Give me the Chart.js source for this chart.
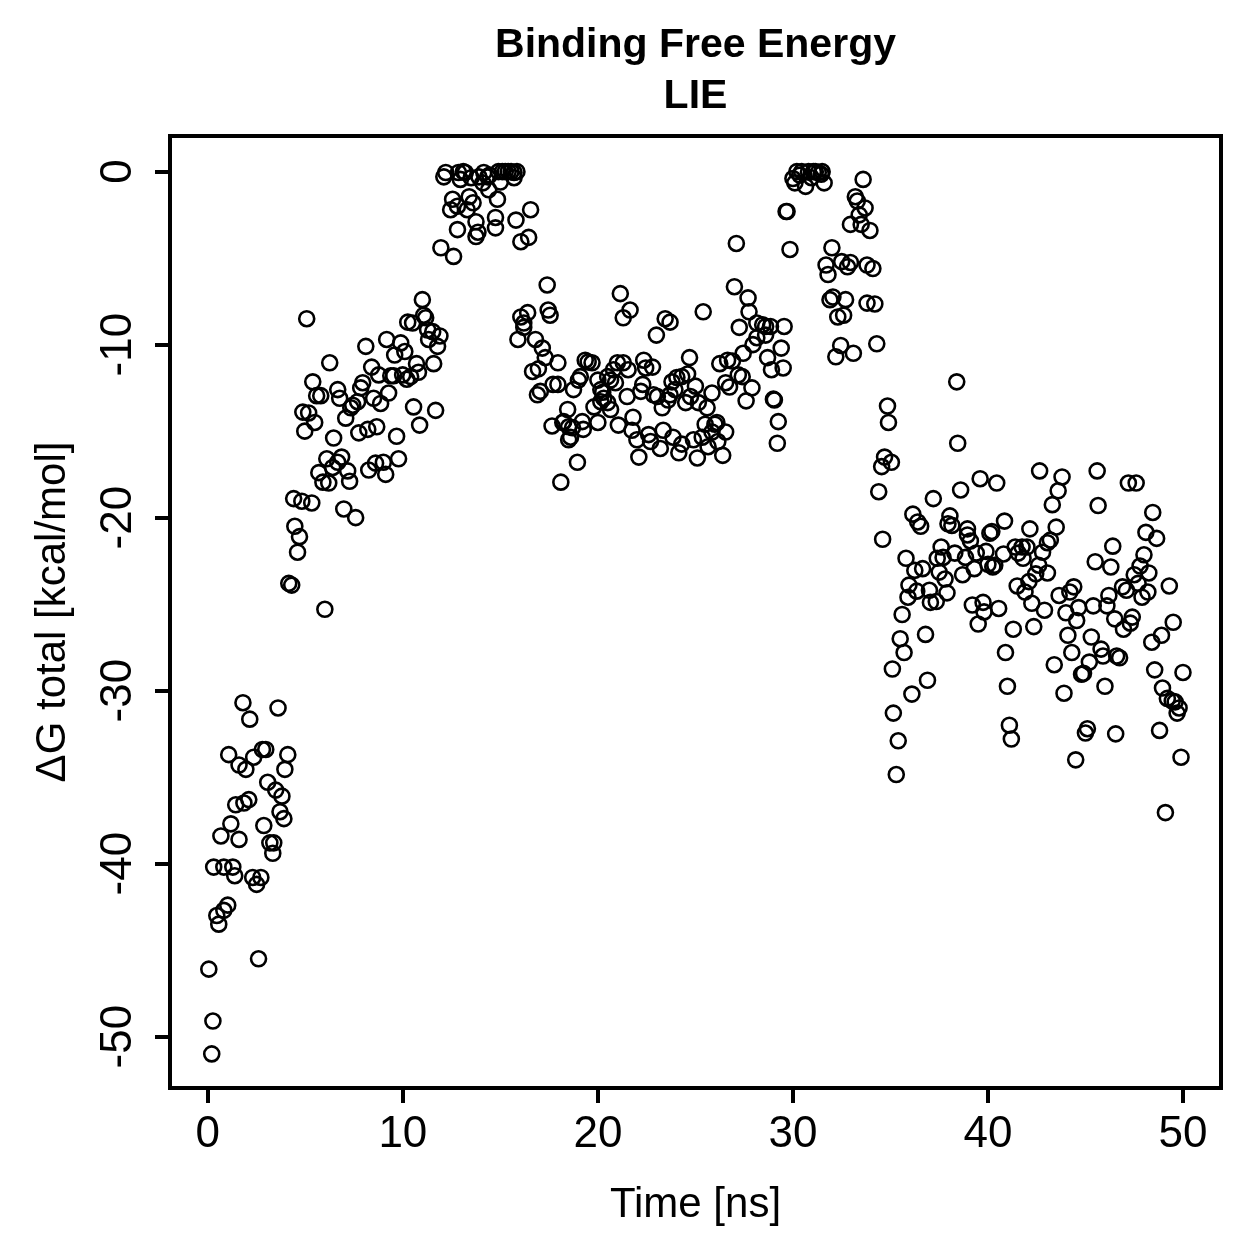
<!DOCTYPE html>
<html><head><meta charset="utf-8">
<script src="https://cdn.jsdelivr.net/npm/chart.js@4.4.1/dist/chart.umd.min.js"></script>
<style>html,body{margin:0;padding:0;background:#fff;} #wrap{width:1259px;height:1259px;}</style>
</head><body><div id="wrap"><canvas id="c" width="1259" height="1259"></canvas></div>
<script>
const chartTitle = ['Binding Free Energy', 'LIE'];
const xLabel = 'Time [ns]';
const yLabel = '\u0394G total [kcal/mol]';
const xTicks = [0, 10, 20, 30, 40, 50];
const yTicks = [0, -10, -20, -30, -40, -50];

// [time (ns), ΔG total (kcal/mol)]
const phaseA = [[1.8,-30.7],[3.6,-31.0],[2.15,-31.65],[1.07,-33.7],[2.35,-33.85],[2.8,-33.4],[2.97,-33.4],[4.1,-33.7],[1.6,-34.3],[1.95,-34.55],[3.95,-34.55],[3.07,-35.3],[3.48,-35.75],[3.8,-36.1],[1.43,-36.6],[1.85,-36.5],[2.1,-36.3],[3.7,-37.0],[3.9,-37.4],[1.18,-37.7],[2.87,-37.8],[0.67,-38.4],[1.6,-38.6],[3.18,-38.8],[3.38,-38.8],[3.33,-39.4],[0.3,-40.2],[0.82,-40.2],[1.28,-40.2],[1.38,-40.7],[2.3,-40.8],[2.72,-40.8],[2.5,-41.2],[1.02,-42.4],[0.82,-42.7],[0.46,-43.0],[0.56,-43.5],[2.6,-45.5],[0.05,-46.1],[0.26,-49.1],[0.2,-51.0]];
const phaseB = [[4.15,-23.8],[4.3,-23.9],[4.4,-18.9],[4.46,-20.5],[4.82,-19.05],[4.6,-22.0],[4.7,-21.1],[4.87,-13.9],[4.97,-15.0],[5.07,-8.5],[5.17,-13.95],[5.33,-19.15],[5.38,-12.15],[5.48,-14.5],[5.58,-12.95],[5.79,-12.95],[5.69,-17.4],[5.9,-17.95],[6.0,-25.3],[6.1,-16.6],[6.2,-18.0],[6.25,-11.05],[6.4,-17.1],[6.45,-15.4],[6.66,-12.6],[6.66,-16.8],[6.76,-13.1],[6.86,-16.5],[6.97,-19.5],[7.07,-14.25],[7.17,-17.3],[7.27,-17.9],[7.33,-13.65],[7.43,-13.5],[7.58,-20.0],[7.68,-13.3],[7.74,-15.1],[7.84,-12.5],[7.94,-12.2],[8.1,-10.1],[8.2,-14.9],[8.25,-17.25],[8.4,-11.3],[8.5,-13.1],[8.6,-16.85],[8.66,-14.75],[8.76,-11.75],[8.86,-13.4],[9.0,-16.8],[9.12,-17.5],[9.17,-9.7],[9.27,-12.8],[9.38,-11.8],[9.53,-11.8],[9.58,-10.6],[9.68,-15.3],[9.78,-16.6],[9.89,-9.9],[9.99,-11.75],[10.1,-10.4],[10.2,-12.0],[10.25,-8.7],[10.4,-11.85],[10.5,-8.75],[10.55,-13.6],[10.7,-11.1],[10.8,-11.6],[10.86,-14.65],[11.0,-7.4],[11.07,-8.3],[11.17,-8.45],[11.27,-9.15],[11.32,-9.7],[11.53,-9.25],[11.58,-11.1],[11.68,-13.8],[11.78,-10.1],[11.9,-9.5]];
const phaseC = [[11.95,-4.4],[12.1,-0.3],[12.2,-0.05],[12.6,-4.9],[12.55,-1.6],[12.45,-2.2],[12.8,-2.0],[12.8,-3.35],[12.85,-0.05],[12.95,-0.45],[13.1,0.0],[13.2,-0.05],[13.4,-1.45],[13.3,-2.2],[13.5,-0.35],[13.6,-1.8],[13.75,-2.9],[13.85,-3.5],[13.75,-3.75],[13.9,-0.3],[14.1,-0.65],[14.15,-0.05],[14.35,-0.3],[14.4,-1.05],[14.45,-0.2],[14.75,-2.65],[14.75,-3.25],[14.85,-1.6],[15.0,-0.6],[14.9,0.0],[15.1,0.0],[15.25,0.0],[15.4,0.0],[15.55,0.0],[15.7,-0.05],[15.85,0.0],[15.7,-0.35],[15.8,-2.8],[16.05,-4.05],[16.45,-3.8],[16.55,-2.2]];
const phaseD = [[17.4,-6.55],[21.15,-7.05],[21.65,-8.0],[21.3,-8.45],[16.05,-8.4],[16.4,-8.15],[16.2,-8.75],[16.2,-9.0],[17.45,-8.0],[17.55,-8.3],[15.9,-9.7],[16.8,-9.7],[17.15,-10.2],[17.3,-10.75],[17.95,-11.05],[16.65,-11.55],[16.95,-11.4],[16.9,-12.9],[17.05,-12.7],[17.7,-12.3],[17.95,-12.3],[18.75,-12.6],[18.45,-13.75],[18.25,-14.45],[17.65,-14.7],[18.2,-14.5],[18.5,-14.75],[18.6,-15.35],[18.5,-15.5],[18.7,-14.8],[19.2,-14.45],[19.25,-14.9],[18.95,-16.8],[18.1,-17.95],[19.35,-10.9],[19.5,-11.0],[19.7,-11.05],[19.1,-11.85],[19.0,-12.05],[20.0,-12.05],[20.15,-12.6],[20.65,-12.05],[20.8,-11.45],[21.0,-11.05],[21.3,-11.05],[21.55,-11.45],[22.35,-10.9],[22.45,-11.35],[20.5,-11.85],[20.9,-12.2],[20.25,-12.75],[20.3,-13.1],[20.15,-13.3],[20.5,-13.35],[19.8,-13.6],[20.65,-13.75],[21.5,-13.0],[20.0,-14.5],[21.05,-14.65],[21.8,-14.2],[21.75,-14.95],[22.0,-15.5],[22.1,-16.5],[22.3,-12.3],[22.2,-12.7],[22.6,-15.2],[22.7,-15.6]];
const phaseE = [[22.8,-11.3],[22.85,-12.9],[23.0,-9.45],[23.05,-13.0],[23.2,-16.0],[23.35,-14.95],[23.45,-8.5],[23.7,-8.7],[23.6,-13.2],[23.3,-13.65],[23.7,-12.9],[23.8,-12.15],[23.85,-15.35],[23.95,-12.6],[24.05,-11.9],[24.15,-16.25],[24.3,-11.85],[24.3,-15.75],[24.5,-13.35],[24.6,-11.7],[24.7,-10.75],[24.75,-13.0],[24.9,-15.5],[25.0,-12.4],[25.1,-16.55],[25.15,-13.35],[25.35,-15.35],[25.4,-8.1],[25.5,-14.6],[25.6,-13.65],[25.65,-15.9],[25.85,-12.8],[25.85,-15.05],[26.0,-14.6],[26.1,-14.5],[26.15,-15.6],[26.25,-11.1],[26.4,-16.4],[26.55,-12.2],[26.55,-15.05],[26.65,-10.9],[26.75,-12.45],[26.9,-10.95],[27.0,-6.65],[27.1,-4.15],[27.2,-11.75],[27.25,-9.0],[27.4,-11.85],[27.45,-10.5],[27.6,-13.25],[27.7,-7.3],[27.75,-8.1],[27.9,-12.5],[27.95,-10.0],[28.15,-8.75],[28.15,-9.6],[28.45,-8.85],[28.6,-8.95],[28.6,-9.45],[28.7,-10.75],[28.85,-8.95],[28.9,-11.45],[29.0,-13.15],[29.05,-13.2],[29.25,-14.45],[29.2,-15.7],[29.4,-10.2],[29.5,-11.35],[29.55,-8.95]];
const phaseF = [[29.65,-2.3],[29.7,-2.3],[29.85,-4.5],[30.0,-0.4],[30.1,-0.65],[30.2,0.0],[30.35,-0.2],[30.45,0.0],[30.65,-0.85],[30.8,0.0],[30.95,-0.35],[31.05,0.0],[31.15,0.0],[31.3,-0.05],[31.45,-0.15],[31.5,0.0],[31.6,-0.65],[33.6,-0.45],[33.2,-1.45],[33.3,-1.7],[33.7,-2.1],[33.4,-2.5],[32.95,-3.05],[33.5,-3.05],[33.95,-3.4],[32.0,-4.4],[31.7,-5.4],[31.8,-5.95],[32.5,-5.2],[32.8,-5.5],[32.95,-5.25],[33.8,-5.4],[34.1,-5.6],[31.9,-7.4],[32.05,-7.25],[32.7,-7.4],[32.3,-8.4],[32.6,-8.3],[33.8,-7.6],[34.2,-7.65],[32.2,-10.7],[32.45,-10.05],[33.1,-10.5],[34.3,-9.95]];
const phaseG = [[34.85,-13.55],[34.9,-14.5],[34.7,-16.5],[35.05,-16.8],[34.55,-17.05],[34.4,-18.5],[34.6,-21.25],[35.3,-34.85],[35.4,-32.9],[35.15,-31.3],[35.1,-28.75],[35.5,-27.0],[35.7,-27.8],[35.6,-25.6],[35.8,-22.35],[35.95,-23.9],[35.9,-24.6],[36.1,-30.2],[36.15,-19.8],[36.25,-23.05],[36.35,-24.25],[36.4,-20.25],[36.55,-20.5],[36.65,-22.95],[36.8,-26.75],[36.9,-29.4],[37.0,-24.2],[37.05,-24.9],[37.2,-18.9],[37.35,-24.85],[37.4,-22.35],[37.5,-23.15],[37.6,-21.7],[37.7,-22.3],[37.8,-23.55],[37.9,-24.35],[37.95,-20.35],[38.05,-19.9],[38.15,-20.45],[38.3,-22.05],[38.4,-12.15],[38.45,-15.7],[38.6,-18.4],[38.7,-23.3],[38.85,-22.3],[38.95,-20.65],[38.95,-21.0],[39.1,-21.35],[39.2,-25.05],[39.3,-22.95],[39.4,-22.05],[39.5,-26.15],[39.6,-17.75],[39.75,-24.9],[39.8,-25.45],[39.9,-21.95],[40.0,-22.7],[40.1,-20.9],[40.2,-20.8],[40.25,-22.85],[40.35,-22.75],[40.45,-18.0],[40.55,-25.25]];
const phaseH = [[40.8,-22.1],[40.85,-20.2],[40.9,-27.8],[41.0,-29.75],[41.1,-32.0],[41.2,-32.8],[41.3,-26.45],[41.4,-21.7],[41.5,-23.95],[41.55,-22.05],[41.75,-21.7],[41.8,-22.35],[41.9,-24.3],[42.0,-21.7],[42.1,-23.7],[42.15,-20.65],[42.25,-24.95],[42.35,-26.3],[42.45,-23.25],[42.6,-22.75],[42.65,-17.3],[42.8,-22.0],[42.9,-25.35],[43.05,-21.45],[43.05,-23.2],[43.2,-21.3],[43.3,-19.25],[43.4,-28.5],[43.5,-20.55],[43.6,-18.45],[43.65,-24.5],[43.8,-17.65],[43.9,-30.15],[44.0,-25.5],[44.1,-26.8],[44.2,-24.3],[44.3,-27.8],[44.4,-24.0],[44.5,-34.0],[44.55,-25.95],[44.65,-25.2],[44.8,-29.05],[44.9,-29.0],[45.0,-32.45],[45.1,-32.2],[45.2,-28.35],[45.3,-26.9],[45.4,-25.1],[45.5,-22.55],[45.6,-17.3],[45.65,-19.3],[45.8,-27.6],[45.9,-28.0],[46.0,-29.75],[46.1,-25.1],[46.2,-24.5],[46.3,-22.85],[46.4,-21.65],[46.5,-25.85],[46.55,-32.5],[46.6,-28.0],[46.75,-28.1],[46.9,-24.0],[46.95,-26.45],[47.1,-24.2],[47.2,-18.0],[47.3,-26.1],[47.4,-25.75],[47.5,-23.3],[47.6,-18.0],[47.7,-23.8],[47.8,-22.8],[47.9,-24.6],[48.0,-22.15],[48.1,-20.85],[48.2,-24.3],[48.25,-23.2],[48.4,-27.2],[48.45,-19.7],[48.55,-28.8],[48.65,-21.2],[48.8,-32.3],[48.9,-26.8],[48.95,-29.85],[49.1,-37.05],[49.2,-30.45],[49.3,-23.95],[49.45,-30.6],[49.5,-26.05],[49.6,-30.65],[49.7,-31.3],[49.8,-31.0],[49.9,-33.85],[50.0,-28.95]];

const allPoints = [].concat(phaseA, phaseB, phaseC, phaseD, phaseE, phaseF, phaseG, phaseH)
  .map(p => ({x: p[0], y: p[1]}));

const FAMILY = "'Liberation Sans', Arial, Helvetica, sans-serif";

const frameAndYLabels = {
  id: 'frameAndYLabels',
  afterDraw(chart) {
    const ctx = chart.ctx;
    const a = chart.chartArea;
    ctx.save();
    ctx.strokeStyle = '#000';
    ctx.lineWidth = 4;
    ctx.strokeRect(a.left, a.top, a.right - a.left, a.bottom - a.top);
    const ys = chart.scales.y;
    ctx.fillStyle = '#000';
    ctx.font = '44px ' + FAMILY;
    ctx.textAlign = 'center';
    ctx.textBaseline = 'alphabetic';
    yTicks.forEach(v => {
      const py = ys.getPixelForValue(v);
      ctx.save();
      ctx.translate(131, py);
      ctx.rotate(-Math.PI / 2);
      ctx.fillText(String(v), 0, 0);
      ctx.restore();
    });
    ctx.restore();
  }
};

new Chart(document.getElementById('c'), {
  type: 'scatter',
  data: {
    datasets: [{
      data: allPoints,
      pointStyle: 'circle',
      radius: 7.5,
      pointRadius: 7.5,
      pointHoverRadius: 7.5,
      pointBorderWidth: 2.6,
      pointBorderColor: '#000',
      pointBackgroundColor: 'rgba(0,0,0,0)',
      borderColor: '#000',
      borderWidth: 2.6,
      backgroundColor: 'rgba(0,0,0,0)',
      showLine: false
    }]
  },
  plugins: [frameAndYLabels],
  options: {
    responsive: false,
    animation: false,
    devicePixelRatio: 1,
    elements: {point: {radius: 7.5, borderWidth: 2.6}},
    layout: {padding: {left: 0, right: 38, top: 0, bottom: 0}},
    plugins: {
      legend: {display: false},
      tooltip: {enabled: false},
      title: {
        display: true,
        text: chartTitle,
        fullSize: false,
        color: '#000',
        font: {family: FAMILY, size: 41, weight: 'bold', lineHeight: 1.25},
        padding: {top: 20, bottom: 13.5}
      }
    },
    scales: {
      x: {
        type: 'linear',
        min: -1.94,
        max: 51.95,
        afterBuildTicks: s => { s.ticks = xTicks.map(v => ({value: v})); },
        afterFit: s => { s.height = 171; },
        border: {display: false},
        grid: {display: true, drawOnChartArea: false, drawTicks: true, tickLength: 15, tickWidth: 4, tickColor: '#000', color: '#000', lineWidth: 4},
        ticks: {color: '#000', font: {family: FAMILY, size: 44}, padding: 5, maxRotation: 0, minRotation: 0, autoSkip: false, callback: v => String(v)},
        title: {display: true, text: xLabel, color: '#000', font: {family: FAMILY, size: 42}, padding: {top: 0, bottom: 28}}
      },
      y: {
        type: 'linear',
        min: -52.97,
        max: 2.06,
        afterBuildTicks: s => { s.ticks = yTicks.map(v => ({value: v})); },
        afterFit: s => { s.width = 170; },
        border: {display: false},
        grid: {display: true, drawOnChartArea: false, drawTicks: true, tickLength: 15, tickWidth: 4, tickColor: '#000', color: '#000', lineWidth: 4},
        ticks: {display: false},
        title: {display: true, text: yLabel, color: '#000', font: {family: FAMILY, size: 42}, padding: {top: 28, bottom: 0}}
      }
    }
  }
});
</script>
</body></html>
